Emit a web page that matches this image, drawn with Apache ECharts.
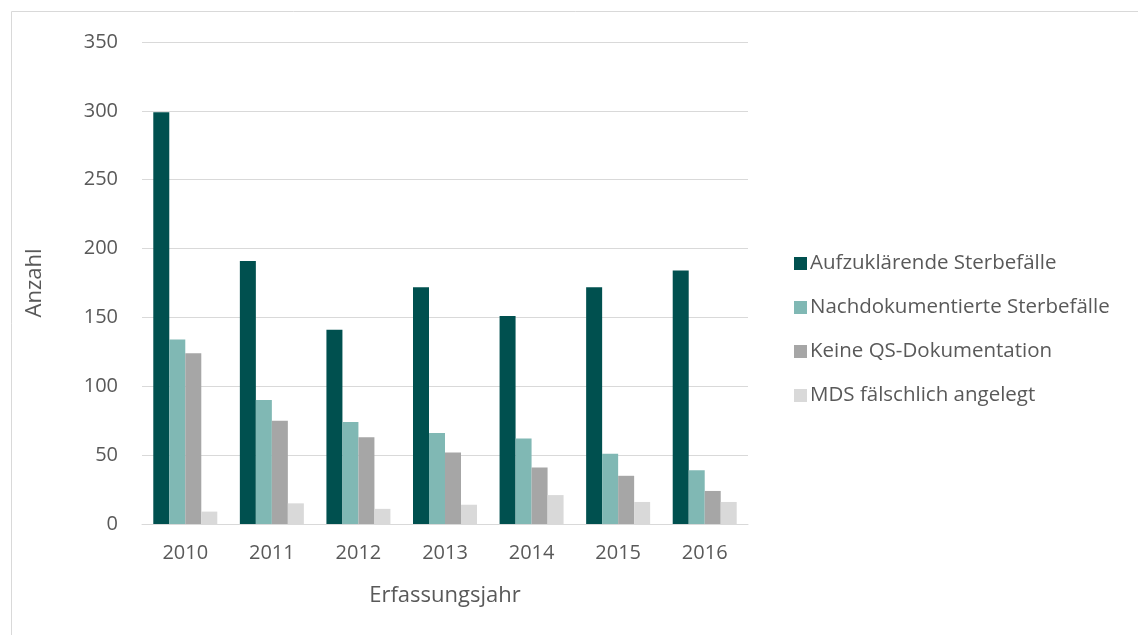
<!DOCTYPE html>
<html><head><meta charset="utf-8">
<script src="https://cdn.jsdelivr.net/npm/echarts@6/dist/echarts.min.js"></script>
<style>html,body{margin:0;padding:0;background:#fff}#c{width:1138px;height:635px}</style>
</head><body><div id="c"></div>
<script>
const categories = ['2010','2011','2012','2013','2014','2015','2016'];
const seriesNames = ['Aufzuklärende Sterbefälle','Nachdokumentierte Sterbefälle','Keine QS-Dokumentation','MDS fälschlich angelegt'];
const aufzuklaerend = [299,191,141,172,151,172,184];
const nachdokumentiert = [134,90,74,66,62,51,39];
const keineQS = [124,75,63,52,41,35,24];
const mdsFalsch = [9,15,11,14,21,16,16];
const colors = ['#00504f','#80b8b4','#a6a6a6','#d9d9d9'];
const values = [aufzuklaerend, nachdokumentiert, keineQS, mdsFalsch];
const font = '"Open Sans", "Liberation Sans", sans-serif';
const chart = echarts.init(document.getElementById('c'));
chart.setOption({
  animation:false,
  graphic:[{type:'rect',shape:{x:11.5,y:11.5,width:1140,height:640},style:{fill:'none',stroke:'#d9d9d9',lineWidth:1}}],
  grid:{left:142,right:390,top:42,bottom:111},
  legend:{orient:'vertical',left:789,top:248,itemWidth:13,itemHeight:13,itemGap:23,icon:'rect',
    textStyle:{color:'#595959',fontSize:20.5,fontFamily:font,padding:[0,0,0,-2]},data:seriesNames},
  xAxis:{type:'category',data:categories,name:'Erfassungsjahr',nameLocation:'middle',nameGap:61,
    nameTextStyle:{color:'#595959',fontSize:22,fontFamily:font},
    axisLine:{lineStyle:{color:'#d9d9d9',width:1}},axisTick:{show:false},
    axisLabel:{color:'#595959',fontSize:20,fontFamily:font,margin:19}},
  yAxis:{type:'value',min:0,max:350,interval:50,name:'Anzahl',nameLocation:'middle',nameGap:96,nameRotate:90,
    nameTextStyle:{color:'#595959',fontSize:22,fontFamily:font},
    axisLine:{show:false},axisTick:{show:false},
    axisLabel:{color:'#595959',fontSize:20,fontFamily:font,margin:24},
    splitLine:{lineStyle:{color:'#d9d9d9',width:1}}},
  series: seriesNames.map((n,i)=>({name:n,type:'bar',data:values[i],barWidth:16,barGap:'0%',
    itemStyle:{color:colors[i]}}))
});
</script></body></html>
